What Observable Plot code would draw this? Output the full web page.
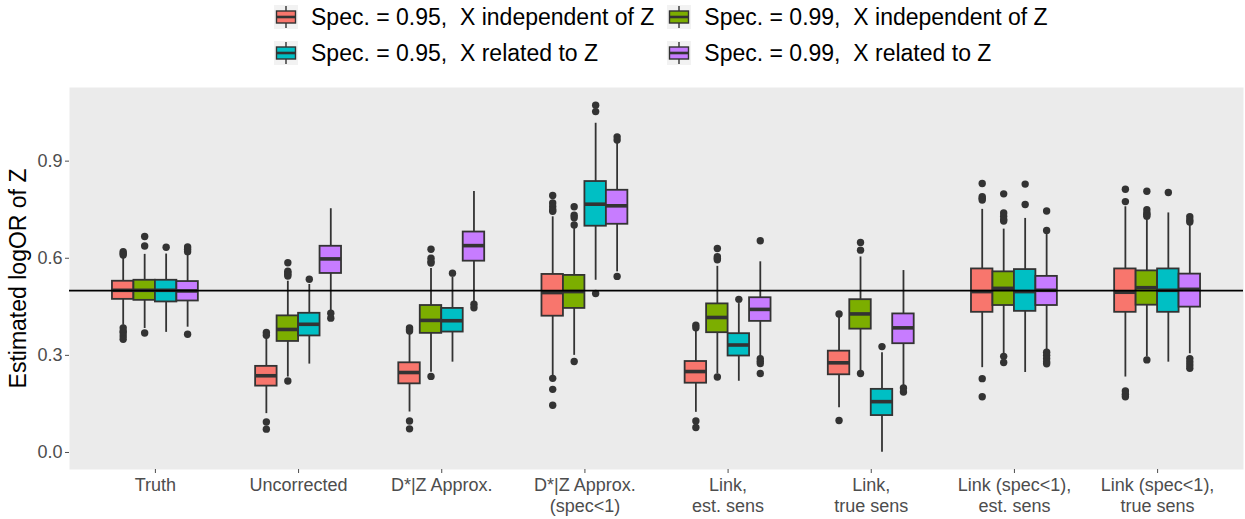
<!DOCTYPE html>
<html>
<head>
<meta charset="utf-8">
<script src="https://cdn.jsdelivr.net/npm/d3@7"></script>
<script src="https://cdn.jsdelivr.net/npm/@observablehq/plot@0.6"></script>
<style>
  html, body { margin: 0; padding: 0; background: white; }
  body { width: 1245px; height: 519px; overflow: hidden; font-family: "Liberation Sans", Arial, sans-serif; }
  #legend {
    height: 72px; box-sizing: border-box; padding-left: 274px; padding-top: 5px;
    display: grid; grid-template-columns: auto auto; column-gap: 13px; row-gap: 12px;
    justify-content: start; align-content: start;
  }
  .item { display: flex; align-items: center; height: 24px; }
  .item svg { flex: none; margin-right: 13px; }
  .item span { font-size: 23px; color: #000; white-space: pre; line-height: 24px; }
</style>
</head>
<body>
<div id="legend"></div>
<div id="chart"></div>
<script>
// Estimators compared along the x axis
const categories = [
  "Truth", "Uncorrected", "D*|Z Approx.", "D*|Z Approx.\n(spec<1)",
  "Link,\nest. sens", "Link,\ntrue sens", "Link (spec<1),\nest. sens", "Link (spec<1),\ntrue sens"
];
// Simulation settings (dodged within each estimator)
const series = [
  "Spec. = 0.95,  X independent of Z",
  "Spec. = 0.99,  X independent of Z",
  "Spec. = 0.95,  X related to Z",
  "Spec. = 0.99,  X related to Z"
];
const colors = ["#F8766D", "#7CAE00", "#00BFC4", "#C77CFF"];
const trueValue = 0.5;
const yTicks = [0, 0.3, 0.6, 0.9];

// Box summaries per estimator: [lower whisker, Q1, median, Q3, upper whisker]
const stats95Indep = [
  [0.393, 0.473, 0.501, 0.529, 0.601],
  [0.120, 0.205, 0.237, 0.266, 0.352],
  [0.125, 0.212, 0.247, 0.277, 0.367],
  [0.233, 0.421, 0.494, 0.550, 0.728],
  [0.124, 0.214, 0.250, 0.281, 0.377],
  [0.138, 0.240, 0.277, 0.313, 0.424],
  [0.262, 0.433, 0.497, 0.567, 0.751],
  [0.233, 0.433, 0.495, 0.567, 0.759]
];
const stats99Indep = [
  [0.383, 0.470, 0.501, 0.532, 0.612],
  [0.233, 0.343, 0.380, 0.422, 0.529],
  [0.248, 0.368, 0.408, 0.454, 0.568],
  [0.300, 0.445, 0.497, 0.547, 0.692],
  [0.243, 0.370, 0.417, 0.459, 0.575],
  [0.248, 0.381, 0.428, 0.472, 0.604],
  [0.305, 0.454, 0.507, 0.558, 0.690],
  [0.295, 0.455, 0.509, 0.561, 0.726]
];
const stats95Related = [
  [0.371, 0.465, 0.501, 0.532, 0.613],
  [0.273, 0.360, 0.396, 0.430, 0.519],
  [0.279, 0.372, 0.407, 0.445, 0.542],
  [0.532, 0.699, 0.767, 0.837, 1.017],
  [0.220, 0.298, 0.332, 0.367, 0.460],
  [0.001, 0.114, 0.157, 0.195, 0.308],
  [0.247, 0.436, 0.497, 0.565, 0.723],
  [0.279, 0.433, 0.501, 0.567, 0.740]
];
const stats99Related = [
  [0.387, 0.468, 0.499, 0.528, 0.610],
  [0.434, 0.553, 0.598, 0.637, 0.753],
  [0.465, 0.591, 0.639, 0.681, 0.806],
  [0.558, 0.705, 0.762, 0.810, 0.960],
  [0.295, 0.405, 0.442, 0.478, 0.589],
  [0.207, 0.336, 0.385, 0.428, 0.562],
  [0.315, 0.454, 0.501, 0.544, 0.674],
  [0.305, 0.449, 0.504, 0.551, 0.709]
];

// Outlying estimates per estimator
const outliers95Indep = [
  [0.620, 0.615, 0.610, 0.385, 0.375, 0.370, 0.360, 0.350],
  [0.371, 0.362, 0.094, 0.072],
  [0.385, 0.380, 0.375, 0.097, 0.073],
  [0.794, 0.771, 0.760, 0.750, 0.745, 0.229, 0.195, 0.146],
  [0.393, 0.385, 0.097, 0.077],
  [0.428, 0.099],
  [0.831, 0.790, 0.785, 0.780, 0.228, 0.172],
  [0.813, 0.775, 0.190, 0.180, 0.172]
];
const outliers99Indep = [
  [0.667, 0.638, 0.369],
  [0.586, 0.560, 0.555, 0.550, 0.545, 0.221],
  [0.628, 0.600, 0.590, 0.585, 0.235],
  [0.759, 0.733, 0.725, 0.703, 0.281],
  [0.630, 0.605, 0.600, 0.595, 0.233],
  [0.649, 0.625, 0.244],
  [0.799, 0.740, 0.730, 0.720, 0.715, 0.297, 0.278],
  [0.807, 0.750, 0.740, 0.735, 0.730, 0.286]
];
const outliers95Related = [
  [0.634],
  [0.535],
  [0.554],
  [1.073, 1.053, 0.491],
  [0.473],
  [0.327],
  [0.829, 0.766],
  [0.803]
];
const outliers99Related = [
  [0.635, 0.628, 0.620, 0.365],
  [0.430, 0.415],
  [0.458, 0.447],
  [0.975, 0.965, 0.544],
  [0.654, 0.290, 0.282, 0.275, 0.244],
  [0.199, 0.187],
  [0.746, 0.686, 0.310, 0.300, 0.290, 0.280, 0.274],
  [0.728, 0.718, 0.712, 0.290, 0.280, 0.270, 0.260]
];

const allStats = [stats95Indep, stats99Indep, stats95Related, stats99Related];
const allOutliers = [outliers95Indep, outliers99Indep, outliers95Related, outliers99Related];

// Dodge the four settings side by side within each estimator (total width 0.6 of a category step)
const dodgeWidth = 0.6;
const boxWidth = dodgeWidth / series.length;
const dodge = (si) => (si - (series.length - 1) / 2) * boxWidth;

const boxes = [];
const outliers = [];
series.forEach((s, si) => {
  allStats[si].forEach(([lo, q1, med, q3, hi], ci) => {
    const pos = ci + 1 + dodge(si);
    boxes.push({series: s, pos, x1: pos - boxWidth / 2, x2: pos + boxWidth / 2, lo, q1, med, q3, hi});
  });
  allOutliers[si].forEach((vals, ci) => {
    const pos = ci + 1 + dodge(si);
    vals.forEach((v) => outliers.push({series: s, pos, v}));
  });
});

// Legend: boxplot glyph keys laid out in two rows
const legend = d3.select("#legend");
series.forEach((s, i) => {
  const item = legend.append("div").attr("class", "item");
  const svg = item.append("svg").attr("width", 24).attr("height", 24);
  svg.append("rect").attr("width", 24).attr("height", 24).attr("fill", "#F2F2F2");
  svg.append("line").attr("x1", 12).attr("x2", 12).attr("y1", 1).attr("y2", 23)
    .attr("stroke", "#333").attr("stroke-width", 1.4);
  svg.append("rect").attr("x", 2.5).attr("y", 6).attr("width", 19).attr("height", 12)
    .attr("fill", colors[i]).attr("stroke", "#333").attr("stroke-width", 1.4);
  svg.append("line").attr("x1", 2.5).attr("x2", 21.5).attr("y1", 12).attr("y2", 12)
    .attr("stroke", "#333").attr("stroke-width", 2.6);
  item.append("span").text(s);
});

const stroke = "#333333";
const chart = Plot.plot({
  width: 1245,
  height: 447,
  marginTop: 15,
  marginBottom: 50,
  marginLeft: 69,
  marginRight: 2,
  style: {fontFamily: "'Liberation Sans', Arial, sans-serif", fontSize: "18px", background: "white", color: "#4D4D4D"},
  x: {domain: [0.4, categories.length + 0.6]},
  y: {domain: [-0.0526, 1.1275]},
  color: {domain: series, range: colors},
  marks: [
    Plot.frame({fill: "#EBEBEB", stroke: "none"}),
    Plot.axisX({
      ticks: d3.range(1, categories.length + 1),
      tickFormat: (i) => categories[i - 1],
      tickSize: 4, tickPadding: 3, lineHeight: 1.15,
      color: "#4D4D4D", label: null
    }),
    Plot.axisY({
      ticks: yTicks, tickFormat: d3.format(".1f"),
      tickSize: 4, tickPadding: 3, color: "#4D4D4D", label: null
    }),
    Plot.text(["Estimated logOR of Z"], {
      frameAnchor: "left", textAnchor: "middle", rotate: -90, dx: -51, fontSize: 23, fill: "black"
    }),
    // whiskers
    Plot.ruleX(boxes, {x: "pos", y1: "lo", y2: "hi", stroke, strokeWidth: 1.8}),
    // interquartile boxes
    Plot.rect(boxes, {x1: "x1", x2: "x2", y1: "q1", y2: "q3", fill: "series", stroke, strokeWidth: 1.8}),
    // medians
    Plot.ruleY(boxes, {y: "med", x1: "x1", x2: "x2", stroke, strokeWidth: 3.6}),
    // outlying estimates
    Plot.dot(outliers, {x: "pos", y: "v", r: 3.7, fill: stroke, stroke: "none"}),
    // true log odds ratio
    Plot.ruleY([trueValue], {stroke: "black", strokeWidth: 1.6})
  ]
});
document.getElementById("chart").append(chart);
</script>
</body>
</html>
